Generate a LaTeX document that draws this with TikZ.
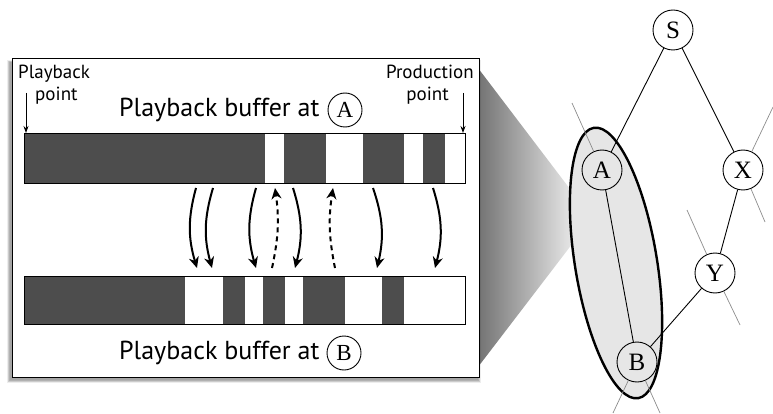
\documentclass[tikz,border=0pt]{standalone}
\usepackage{fontspec}
\setmainfont{PT Sans}
\newfontfamily\letterfont{Liberation Serif}
\usetikzlibrary{arrows.meta,shapes.geometric}

\definecolor{segdark}{HTML}{4D4D4D}
\definecolor{lensgray}{HTML}{E6E6E6}

\begin{document}
\begin{tikzpicture}[x=1pt,y=-1pt,
  bigtext/.style={font=\fontsize{26}{28}\selectfont, inner sep=0pt},
  smalltext/.style={font=\fontsize{19}{22}\selectfont, inner sep=0pt},
  bufbar/.style={draw=black, line width=0.9pt, minimum height=50pt, inner sep=0pt, anchor=north west},
  darkseg/.style={fill=segdark},
  moveto/.style={line width=2pt, -{Stealth[length=11pt,width=10pt,inset=3.5pt]}},
  movedash/.style={moveto, dash pattern=on 5pt off 4pt},
  pointer/.style={line width=0.9pt, -{Stealth[length=7pt,width=5pt]}},
  tagcircle/.style={circle, draw, line width=0.9pt, minimum size=34pt, inner sep=0pt, font=\letterfont\fontsize{23}{23}\selectfont},
  peer/.style={circle, draw, line width=0.9pt, minimum size=40pt, inner sep=0pt, font=\letterfont\fontsize{25}{25}\selectfont},
  link/.style={line width=0.9pt},
  stub/.style={draw=black!45, line width=0.7pt}
]
\useasboundingbox (0,0) rectangle (773,414);

% ---- zoom wedge from the panel to the lens ----
\shade[left color=black!55, right color=white] (478,68) -- (592,218) -- (478,367) -- cycle;

% ---- soft shadow under the panel ----
\foreach \g in {0,1,2,3,4,5} {
  \fill[black, opacity=0.07] (12-2-\g*0.6, 58+4-\g*0.3) rectangle (479-1+\g*0.6, 377+3+\g*0.6);
}

% ---- panel ----
\node[draw, fill=white, line width=1.3pt, minimum width=467pt, minimum height=319pt, inner sep=0pt, anchor=north west] (panel) at (12,58) {};

% ---- buffer at A ----
\foreach \xa/\xb in {24/265, 284/326, 363/404, 423/445}
  \fill[darkseg] (\xa,133) rectangle (\xb,183);
\node[bufbar, minimum width=441pt] (bufA) at (24,133) {};

% ---- buffer at B ----
\foreach \xa/\xb in {24/185, 223/245, 263/285, 303/345, 382/404}
  \fill[darkseg] (\xa,276) rectangle (\xb,324);
\node[bufbar, minimum width=441pt, minimum height=48pt] (bufB) at (24,276) {};

% ---- captions ----
\node[bigtext, anchor=base west] (capA) at (119,117) {Playback buffer at};
\node[tagcircle] (tagA) at (345,110) {A};
\node[bigtext, anchor=base west] (capB) at (119,359) {Playback buffer at};
\node[tagcircle] (tagB) at (344,353) {B};

\node[smalltext, anchor=base west] (pbA) at (18,79) {Playback};
\node[smalltext, anchor=base west] (pbB) at (35,101) {point};
\node[smalltext, anchor=base east] (prA) at (474,79) {Production};
\node[smalltext, anchor=base east] (prB) at (449,101) {point};

\coordinate (playtop) at (26,93);
\coordinate (prodtop) at (463,93);
\draw[pointer] (playtop) -- (bufA.north west -| playtop);
\draw[pointer] (prodtop) -- (bufA.north east -| prodtop);

% ---- segments moved between the two buffers ----
\foreach \n/\xa/\xb/\kind/\bend in {
    1/196/197/moveto/right,
    2/213/212/moveto/right,
    3/256/256/moveto/right,
    5/293/295/moveto/left,
    7/373/377/moveto/left,
    8/433/435/moveto/left} {
  \coordinate (src\n) at (\xa,188);
  \coordinate (dst\n) at (\xb,268);
  \draw[\kind] (src\n) to[bend \bend=16] (dst\n);
}
\foreach \n/\xa/\xb/\bend in {4/272/275/right, 6/335/333/left} {
  \coordinate (src\n) at (\xa,268);
  \coordinate (dst\n) at (\xb,188);
  \draw[movedash] (src\n) to[bend \bend=10] (dst\n);
}

% ---- lens around the A--B link ----
\draw[line width=2.4pt, fill=lensgray, rotate around={9.3:(616,263)}]
  (616,263) ellipse [x radius=41, y radius=137];

% ---- overlay graph ----
\node[peer, fill=white] (S) at (673,30) {S};
\node[peer] (A) at (602,170) {A};
\node[peer, fill=white] (X) at (743,170) {X};
\node[peer, fill=white] (Y) at (715,273) {Y};
\node[peer] (B) at (637,362) {B};

\draw[link] (S) -- (A);
\draw[link] (S) -- (X);
\draw[link] (X) -- (Y);
\draw[link] (Y) -- (B);
\draw[link] (A) -- (B);

\coordinate (a1) at (572,103);
\coordinate (x1) at (773,107);
\coordinate (x2) at (765,222);
\coordinate (y1) at (687,210);
\coordinate (y2) at (740,325);
\coordinate (b1) at (613,413);
\coordinate (b2) at (660,413);
\draw[stub] (A) -- (a1);
\draw[stub] (X) -- (x1);
\draw[stub] (X) -- (x2);
\draw[stub] (Y) -- (y1);
\draw[stub] (Y) -- (y2);
\draw[stub] (B) -- (b1);
\draw[stub] (B) -- (b2);
\end{tikzpicture}
\end{document}
